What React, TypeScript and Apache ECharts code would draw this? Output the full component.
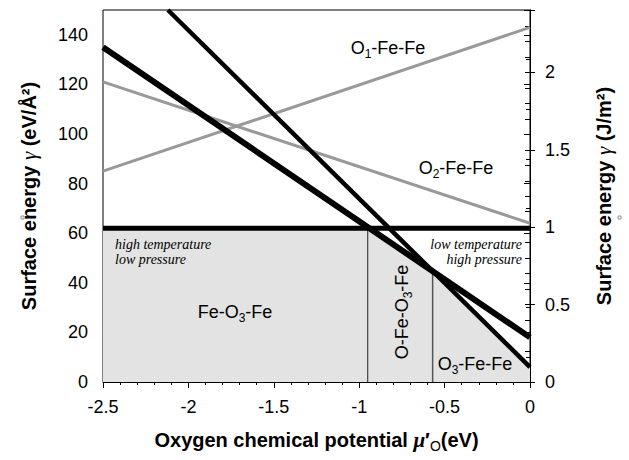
import React, { useEffect, useRef } from 'react';
import * as echarts from 'echarts';

// ---- data ----
const xRange = [-2.5, 0];
const feO3FeY = [62, 62];
const oFeO3FeY = [135, 18];
const o3FeFeX = [-2.12, 0];
const o3FeFeY = [150, 6];
const o1FeFeY = [85, 143];
const o2FeFeY = [121, 64];
const envelopeX = [-2.5, -0.95, -0.57, 0];
const envelopeY = [62, 62, 44.6, 6];
const transitionX = [-0.95, -0.57];
const transitionY = [62, 44.6];
const leftMax = 150;
const eVA2ToJm2 = 0.01602;

const SANS = 'Liberation Sans, Arial, sans-serif';
const SERIF = 'Liberation Serif, Times New Roman, serif';

const pairs = (xs: number[], ys: number[]) => xs.map((x, i) => [x, ys[i]]);

const labelRich = {
  n: { fontSize: 18, fontFamily: SANS, color: '#000' },
  s: { fontSize: 12, fontFamily: SANS, color: '#000', padding: [11, 0, 0, 0] },
};

const nameRich = {
  b: { fontSize: 20, fontWeight: 'bold', fontFamily: SANS, color: '#000' },
  g: { fontSize: 21, fontStyle: 'italic', fontFamily: SERIF, color: '#000' },
  m: { fontSize: 21, fontStyle: 'italic', fontWeight: 'bold', fontFamily: SERIF, color: '#000' },
  s: { fontSize: 14, fontFamily: SANS, color: '#000', padding: [12, 0, 0, 0] },
};

export default function App() {
  const ref = useRef<HTMLDivElement>(null);
  useEffect(() => {
    if (!ref.current) return;
    const chart = echarts.init(ref.current, null, { renderer: 'svg' });
    const lineSeries = (data: number[][], color: string, width: number, z: number) => ({
      type: 'line',
      data,
      symbol: 'none',
      silent: true,
      z,
      lineStyle: { color, width, cap: 'butt' },
    });
    const italic = (text: string, x: number, y: number, align: string) => ({
      type: 'text',
      x,
      y,
      silent: true,
      z: 100,
      style: {
        text,
        fill: '#000',
        fontSize: 14,
        fontStyle: 'italic',
        fontFamily: SERIF,
        textAlign: align,
        textVerticalAlign: 'middle',
      },
    });
    const label = (text: string, x: number, y: number, rotation = 0) => ({
      type: 'text',
      x,
      y,
      rotation,
      silent: true,
      z: 100,
      style: {
        text,
        rich: labelRich,
        textAlign: 'center',
        textVerticalAlign: 'middle',
      },
    });
    chart.setOption({
      animation: false,
      grid: { left: 103, right: 99, top: 10, bottom: 78, show: true, borderColor: '#000', borderWidth: 1, backgroundColor: 'transparent' },
      xAxis: {
        type: 'value',
        min: xRange[0],
        max: xRange[1],
        interval: 0.5,
        axisLine: { show: true, lineStyle: { color: '#000', width: 1 } },
        axisTick: { show: true, length: 6, lineStyle: { color: '#000' } },
        minorTick: { show: true, splitNumber: 5, length: 3, lineStyle: { color: '#000' } },
        splitLine: { show: false },
        axisLabel: { fontSize: 18, color: '#000', fontFamily: SANS, margin: 16 },
        name: '{b|Oxygen chemical potential }{m|μ}{b|′}{s|O}{b|(eV)}',
        nameLocation: 'middle',
        nameGap: 45,
        nameTextStyle: { rich: nameRich },
      },
      yAxis: [
        {
          type: 'value',
          min: 0,
          max: leftMax,
          interval: 20,
          axisLine: { show: true, lineStyle: { color: '#000', width: 1 } },
          axisTick: { show: true, length: 6, lineStyle: { color: '#000' } },
          minorTick: { show: true, splitNumber: 2, length: 4, lineStyle: { color: '#000' } },
          splitLine: { show: false },
          axisLabel: { fontSize: 18, color: '#000', fontFamily: SANS, margin: 15, showMaxLabel: false },
          name: '{b|Surface energy }{g|γ}{b| (eV/Å²)}',
          nameLocation: 'middle',
          nameGap: 64,
          nameTextStyle: { rich: nameRich },
        },
        {
          type: 'value',
          position: 'right',
          min: 0,
          max: leftMax * eVA2ToJm2,
          interval: 0.5,
          axisLine: { show: true, lineStyle: { color: '#000', width: 1 } },
          axisTick: { show: true, inside: true, length: 5, lineStyle: { color: '#000' } },
          minorTick: { show: true, splitNumber: 5, length: 5, lineStyle: { color: '#000' } },
          splitLine: { show: false },
          axisLabel: { fontSize: 18, color: '#000', fontFamily: SANS, margin: 15, showMaxLabel: false },
          name: '{b|Surface energy }{g|γ}{b| (J/m²)}',
          nameLocation: 'middle',
          nameGap: 63,
          nameRotate: 90,
          nameTextStyle: { rich: nameRich },
        },
        {
          type: 'value',
          position: 'right',
          min: 0,
          max: leftMax * eVA2ToJm2,
          interval: 0.5,
          axisLine: { show: false },
          axisTick: { show: true, inside: false, length: 5, lineStyle: { color: '#000' } },
          minorTick: { show: false },
          splitLine: { show: false },
          axisLabel: { show: false },
        },
      ],
      series: [
        {
          type: 'line',
          data: pairs(envelopeX, envelopeY),
          symbol: 'none',
          silent: true,
          z: 1,
          lineStyle: { width: 0 },
          areaStyle: { color: '#e3e3e3', opacity: 1 },
        },
        lineSeries([[transitionX[0], 0], [transitionX[0], transitionY[0]]], '#222', 1, 2),
        lineSeries([[transitionX[1], 0], [transitionX[1], transitionY[1]]], '#555', 1.5, 2),
        lineSeries(pairs(xRange, o1FeFeY), '#999', 3, 3),
        lineSeries(pairs(xRange, o2FeFeY), '#999', 3, 3),
        lineSeries(pairs(xRange, feO3FeY), '#000', 5, 4),
        lineSeries(pairs(xRange, oFeO3FeY), '#000', 6, 4),
        lineSeries(pairs(o3FeFeX, o3FeFeY), '#000', 4.5, 4),
      ],
      graphic: [
        label('{n|O}{s|1}{n|-Fe-Fe}', 388, 48),
        label('{n|O}{s|2}{n|-Fe-Fe}', 456, 168),
        label('{n|Fe-O}{s|3}{n|-Fe}', 235, 312),
        label('{n|O-Fe-O}{s|3}{n|-Fe}', 402, 312, Math.PI / 2),
        label('{n|O}{s|3}{n|-Fe-Fe}', 475, 364),
        italic('high temperature', 115, 244, 'left'),
        italic('low pressure', 115, 259, 'left'),
        italic('low temperature', 522, 244, 'right'),
        italic('high pressure', 522, 259, 'right'),
        { type: 'rect', z: 100, shape: { x: 21, y: 216, width: 3, height: 3 }, style: { fill: 'none', stroke: '#777', lineWidth: 0.8 } },
        { type: 'rect', z: 100, shape: { x: 618, y: 216, width: 3, height: 3 }, style: { fill: 'none', stroke: '#777', lineWidth: 0.8 } },
      ],
    });
    return () => chart.dispose();
  }, []);
  return <div ref={ref} style={{ position: 'fixed', left: 0, top: 0, width: 629, height: 460, background: '#fff' }} />;
}
